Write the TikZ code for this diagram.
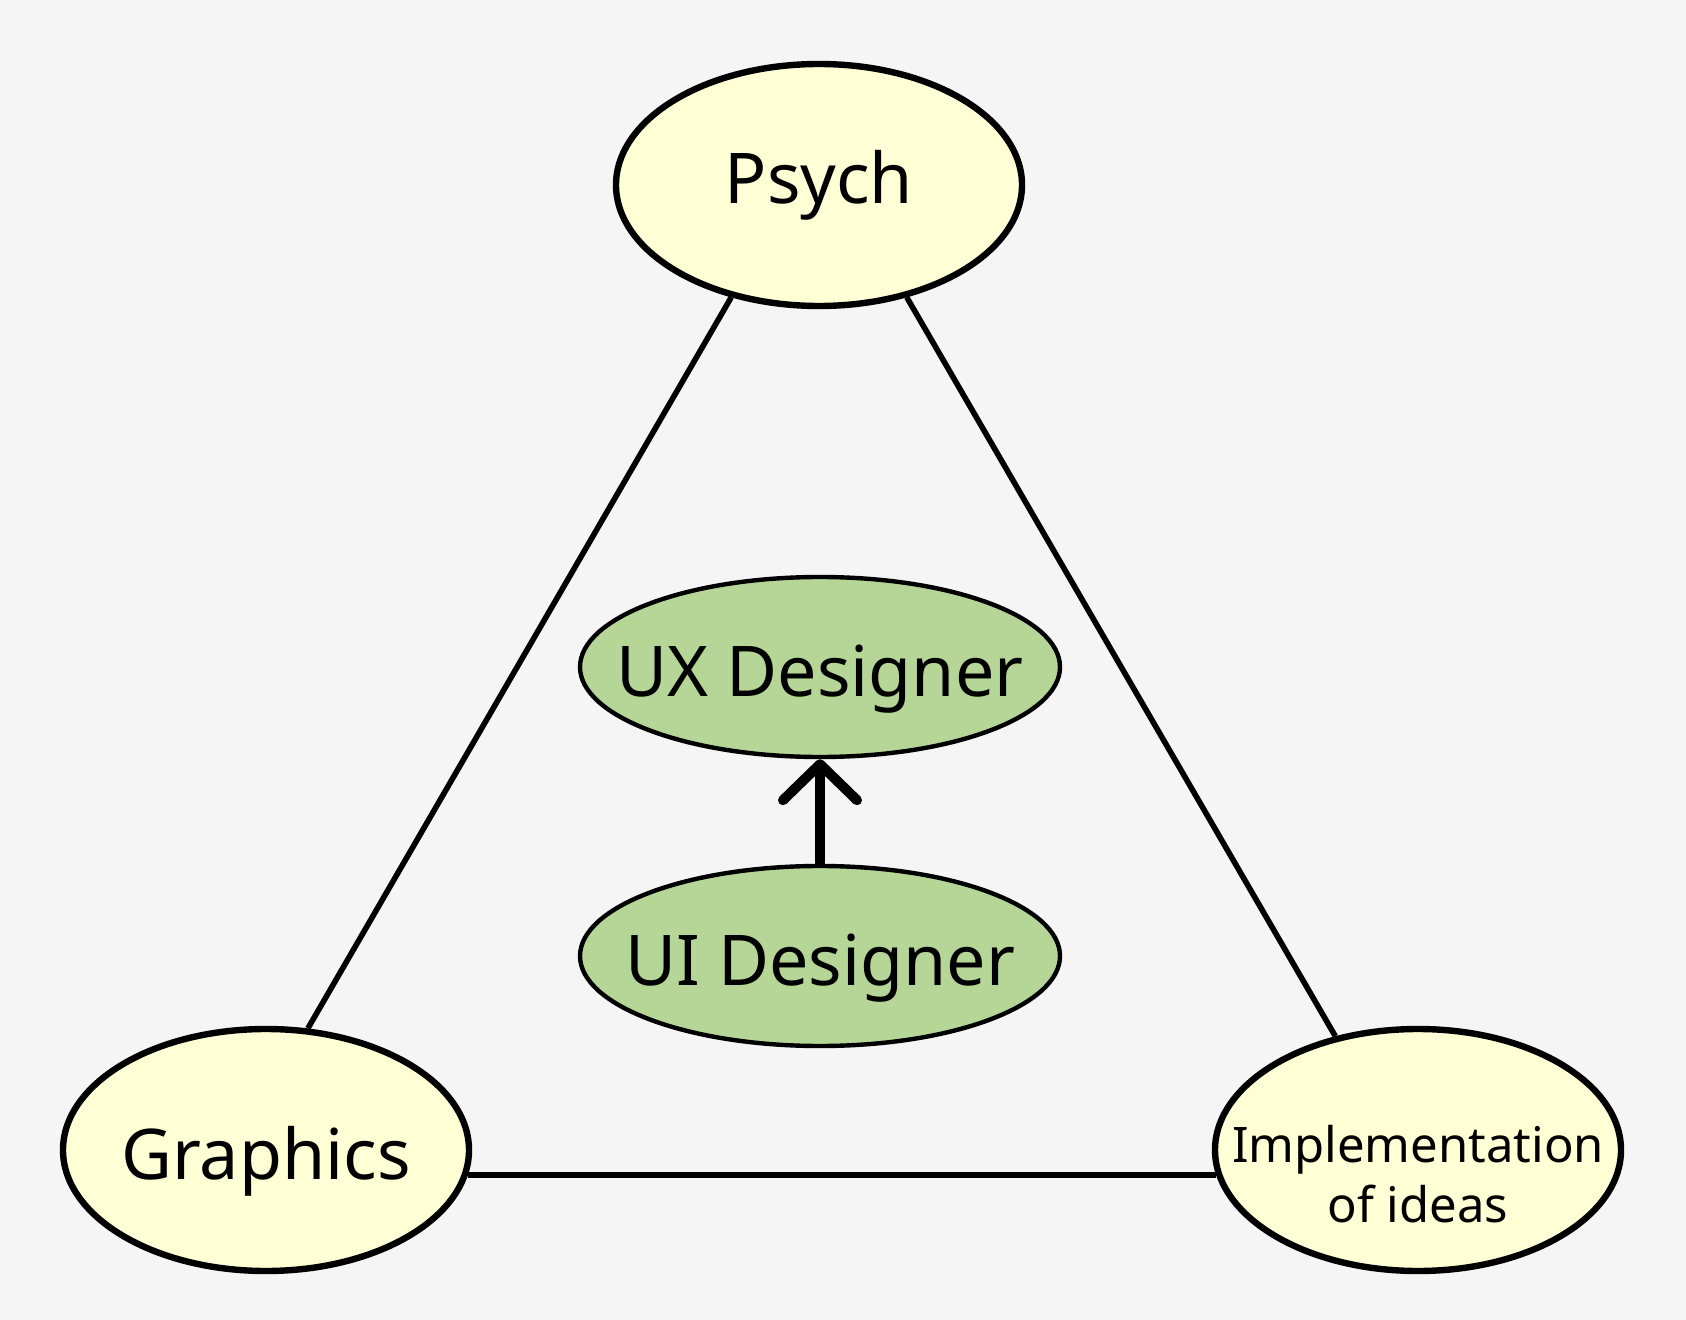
\documentclass[tikz,border=0pt]{standalone}
\usepackage{fontspec}
\setmainfont{Noto Sans}
\usetikzlibrary{shapes.geometric,arrows.meta}
\definecolor{bg}{HTML}{F5F5F5}
\definecolor{yel}{HTML}{FFFFD5}
\definecolor{grn}{HTML}{B6D698}
\begin{document}
\begin{tikzpicture}[x=0.5pt,y=-0.5pt,
  yellownode/.style={ellipse, draw=black, line width=3.2pt, fill=yel,
    minimum width=203pt, minimum height=121pt, inner sep=0pt,
    font=\fontsize{35}{42}\selectfont},
  greennode/.style={ellipse, draw=black, line width=2.2pt, fill=grn,
    minimum width=240pt, minimum height=90pt, inner sep=0pt,
    font=\fontsize{35}{42}\selectfont},
  low/.style={text height=29pt, text depth=0pt},
  edge/.style={line width=2.8pt},
  arrowedge/.style={line width=5pt, -{Straight Barb[length=18pt,width=37pt,round]}}]
\fill[bg] (0,0) rectangle (1686,1320);
\useasboundingbox (0,0) rectangle (1686,1320);
\node[yellownode] (psych) at (819,185) {\makebox[0pt]{Psych}};
\node[yellownode, low] (graph) at (266,1150) {\makebox[0pt]{Graphics}};
\node[yellownode] (impl) at (1418,1150) {};
\node[align=center, font=\fontsize{24.5}{30}\selectfont, inner sep=0pt] (impltext) at (1418,1174) {Implementation\\of ideas};
\node[greennode, low] (ux) at (820,667) {\makebox[0pt]{UX Designer}};
\node[greennode, low] (ui) at (820,956) {\makebox[0pt]{UI Designer}};
\draw[edge] (psych.232) -- (graph.71);
\draw[edge] (psych.308) -- (impl.126);
\draw[edge] (graph.-7) -- (impl.187);
\draw[arrowedge] (ui.north) -- (ux.south);
\end{tikzpicture}
\end{document}
